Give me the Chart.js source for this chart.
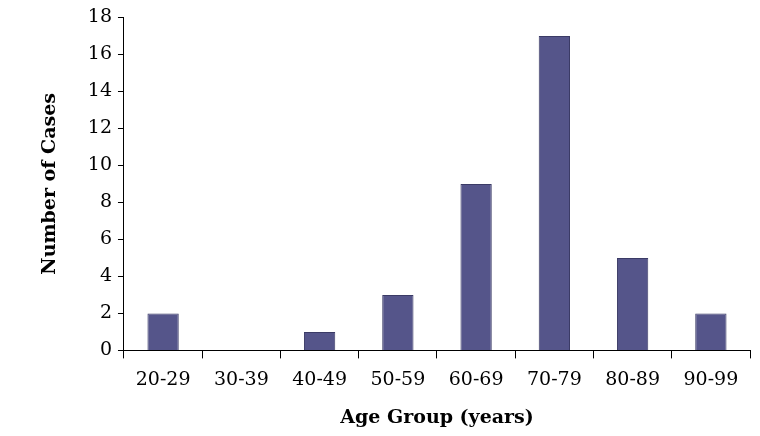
<!DOCTYPE html>
<html><head><meta charset="utf-8">
<script src="https://cdn.jsdelivr.net/npm/chart.js@4"></script>
<style>html,body{margin:0;background:#fff}#wrap{width:760px;height:436px}</style>
</head><body><div id="wrap"><canvas id="c"></canvas></div>
<script>
const categories = ['20-29','30-39','40-49','50-59','60-69','70-79','80-89','90-99'];
const cases = [2, 0, 1, 3, 9, 17, 5, 2];

const font = { family: 'DejaVu Serif', size: 19 };
const titleFont = { family: 'DejaVu Serif', size: 19, weight: 'bold' };
new Chart(document.getElementById('c'), {
  type: 'bar',
  data: { labels: categories, datasets: [{ data: cases, backgroundColor: '#55558a', borderColor: '#3b3b66', borderWidth: 1, barPercentage: 0.4, categoryPercentage: 1 }] },
  options: {
    responsive: true, maintainAspectRatio: false, animation: false,
    layout: { padding: { top: 8, right: 10, left: 35, bottom: 7 } },
    plugins: { legend: { display: false }, tooltip: { enabled: false } },
    scales: {
      x: {
        grid: { offset: true, drawOnChartArea: false, tickLength: 8, color: '#000' },
        border: { color: '#000' },
        ticks: { color: '#000', font, padding: 10, maxRotation: 0, autoSkip: false },
        title: { display: true, text: 'Age Group (years)', color: '#000', font: titleFont, padding: { top: 5, bottom: 0 } }
      },
      y: {
        min: 0, max: 18,
        grid: { drawOnChartArea: false, tickLength: 6, color: '#000' },
        border: { color: '#000' },
        ticks: { stepSize: 2, color: '#000', font, padding: 6 },
        title: { display: true, text: 'Number of Cases', color: '#000', font: titleFont, padding: { bottom: 20 } }
      }
    }
  }
});
</script></body></html>
